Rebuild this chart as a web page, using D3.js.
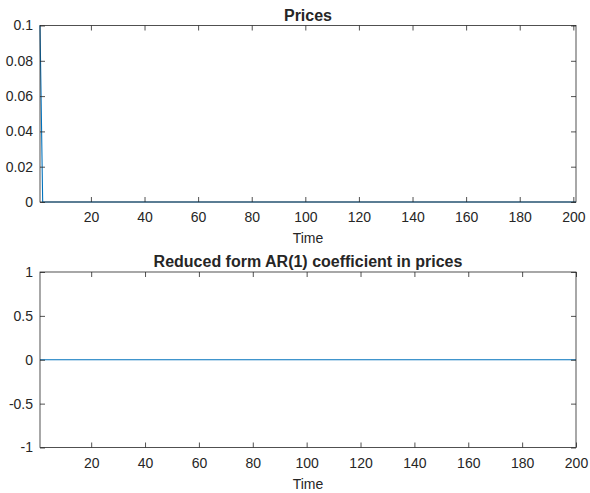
<!DOCTYPE html>
<html>
<head>
<meta charset="utf-8">
<script src="https://cdn.jsdelivr.net/npm/d3@7"></script>
<style>
  body { margin: 0; background: #fff; }
  svg text { font-family: "Liberation Sans", Arial, Helvetica, sans-serif; fill: #262626; }
</style>
</head>
<body>
<script>
// Data
const priceTimes = d3.range(1, 202);          // 1..201
const prices = [
  0.1, 0, 0, 0, 0, 0, 0, 0, 0, 0, 0, 0, 0, 0, 0, 0, 0, 0, 0, 0,
  0, 0, 0, 0, 0, 0, 0, 0, 0, 0, 0, 0, 0, 0, 0, 0, 0, 0, 0, 0,
  0, 0, 0, 0, 0, 0, 0, 0, 0, 0, 0, 0, 0, 0, 0, 0, 0, 0, 0, 0,
  0, 0, 0, 0, 0, 0, 0, 0, 0, 0, 0, 0, 0, 0, 0, 0, 0, 0, 0, 0,
  0, 0, 0, 0, 0, 0, 0, 0, 0, 0, 0, 0, 0, 0, 0, 0, 0, 0, 0, 0,
  0, 0, 0, 0, 0, 0, 0, 0, 0, 0, 0, 0, 0, 0, 0, 0, 0, 0, 0, 0,
  0, 0, 0, 0, 0, 0, 0, 0, 0, 0, 0, 0, 0, 0, 0, 0, 0, 0, 0, 0,
  0, 0, 0, 0, 0, 0, 0, 0, 0, 0, 0, 0, 0, 0, 0, 0, 0, 0, 0, 0,
  0, 0, 0, 0, 0, 0, 0, 0, 0, 0, 0, 0, 0, 0, 0, 0, 0, 0, 0, 0,
  0, 0, 0, 0, 0, 0, 0, 0, 0, 0, 0, 0, 0, 0, 0, 0, 0, 0, 0, 0,
  0
];
const arTimes = d3.range(1, 201);             // 1..200
const arCoef = [
  0, 0, 0, 0, 0, 0, 0, 0, 0, 0, 0, 0, 0, 0, 0, 0, 0, 0, 0, 0,
  0, 0, 0, 0, 0, 0, 0, 0, 0, 0, 0, 0, 0, 0, 0, 0, 0, 0, 0, 0,
  0, 0, 0, 0, 0, 0, 0, 0, 0, 0, 0, 0, 0, 0, 0, 0, 0, 0, 0, 0,
  0, 0, 0, 0, 0, 0, 0, 0, 0, 0, 0, 0, 0, 0, 0, 0, 0, 0, 0, 0,
  0, 0, 0, 0, 0, 0, 0, 0, 0, 0, 0, 0, 0, 0, 0, 0, 0, 0, 0, 0,
  0, 0, 0, 0, 0, 0, 0, 0, 0, 0, 0, 0, 0, 0, 0, 0, 0, 0, 0, 0,
  0, 0, 0, 0, 0, 0, 0, 0, 0, 0, 0, 0, 0, 0, 0, 0, 0, 0, 0, 0,
  0, 0, 0, 0, 0, 0, 0, 0, 0, 0, 0, 0, 0, 0, 0, 0, 0, 0, 0, 0,
  0, 0, 0, 0, 0, 0, 0, 0, 0, 0, 0, 0, 0, 0, 0, 0, 0, 0, 0, 0,
  0, 0, 0, 0, 0, 0, 0, 0, 0, 0, 0, 0, 0, 0, 0, 0, 0, 0, 0, 0
];
const xTicks = [20, 40, 60, 80, 100, 120, 140, 160, 180, 200];
const priceTicks = [0, 0.02, 0.04, 0.06, 0.08, 0.1];
const arTicks = [-1, -0.5, 0, 0.5, 1];

const W = 590, H = 493;
const svg = d3.select("body").append("svg")
  .attr("width", W).attr("height", H);

const axisColor = "#262626";
const lineColor = "#0072BD";
// MATLAB style: plain hyphen for negatives
const fmt = d => d3.format("~g")(d).replace("\u2212", "-");

function panel(opts) {
  const { left, right, top, bottom, xDomain, yDomain, yTicks, times, values, title } = opts;
  const x = d3.scaleLinear().domain(xDomain).range([left, right]);
  const y = d3.scaleLinear().domain(yDomain).range([bottom, top]);
  const g = svg.append("g");
  const tickLen = 5;

  // line
  const line = d3.line().x((d, i) => x(times[i])).y(d => y(d));
  g.append("path")
    .datum(values)
    .attr("fill", "none")
    .attr("stroke", lineColor)
    .attr("stroke-width", 1.1)
    .attr("d", line);

  // bottom axis (inner ticks)
  const xb = g.append("g").attr("transform", `translate(0,${bottom})`)
    .call(d3.axisBottom(x).tickValues(xTicks).tickSizeInner(-tickLen).tickSizeOuter(0).tickPadding(10.5));
  // top axis ticks
  const xt = g.append("g").attr("transform", `translate(0,${top})`)
    .call(d3.axisTop(x).tickValues(xTicks).tickSizeInner(-tickLen).tickSizeOuter(0).tickFormat(""));
  // left axis
  const yl = g.append("g").attr("transform", `translate(${left},0)`)
    .call(d3.axisLeft(y).tickValues(yTicks).tickSizeInner(-tickLen).tickSizeOuter(0).tickPadding(7)
      .tickFormat(fmt));
  // right axis ticks
  const yr = g.append("g").attr("transform", `translate(${right},0)`)
    .call(d3.axisRight(y).tickValues(yTicks).tickSizeInner(-tickLen).tickSizeOuter(0).tickFormat(""));

  [xb, xt, yl, yr].forEach(a => {
    a.select(".domain").remove();
    a.selectAll("line").attr("stroke", axisColor).attr("stroke-width", 0.8);
    a.selectAll("text").style("font-size", "14px").attr("fill", axisColor);
  });

  // box
  g.append("rect")
    .attr("x", left).attr("y", top)
    .attr("width", right - left).attr("height", bottom - top)
    .attr("fill", "none").attr("stroke", axisColor).attr("stroke-width", 0.8);

  // title
  g.append("text")
    .attr("x", (left + right) / 2).attr("y", top - 5)
    .attr("text-anchor", "middle")
    .style("font-size", "16px").style("font-weight", "bold")
    .text(title);

  // x label
  g.append("text")
    .attr("x", (left + right) / 2).attr("y", bottom + 41)
    .attr("text-anchor", "middle")
    .style("font-size", "14px")
    .text("Time");
}

panel({
  left: 40, right: 576, top: 25.5, bottom: 202,
  xDomain: [1, 201], yDomain: [0, 0.1], yTicks: priceTicks,
  times: priceTimes, values: prices, title: "Prices"
});

panel({
  left: 40, right: 576, top: 272, bottom: 447.5,
  xDomain: [1, 200], yDomain: [-1, 1], yTicks: arTicks,
  times: arTimes, values: arCoef, title: "Reduced form AR(1) coefficient in prices"
});
</script>
</body>
</html>
